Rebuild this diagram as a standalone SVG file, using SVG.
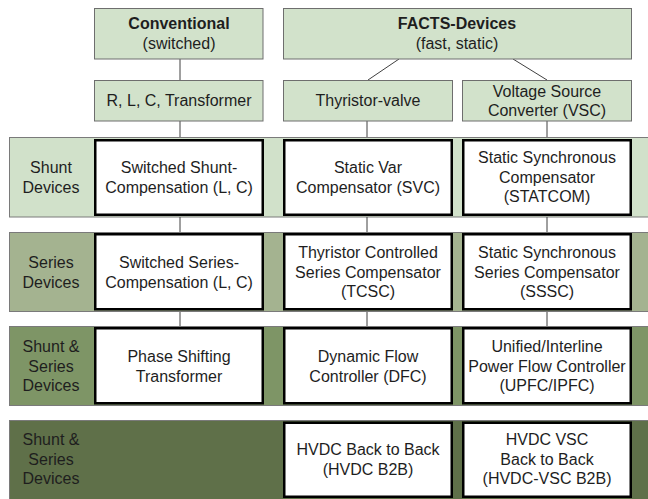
<svg xmlns="http://www.w3.org/2000/svg" width="648" height="499" viewBox="0 0 648 499">
<style>
text{font-family:"Liberation Sans",Arial,sans-serif;font-size:16px;fill:#1e1e1e;text-anchor:middle}
.b{font-weight:bold}
.hdr{fill:#d2e2cb;stroke:#6e6e6e;stroke-width:1}
.band{stroke:#7a7a7a;stroke-width:1}
.box{fill:#ffffff;stroke:#000000;stroke-width:2.5}
.conn line{stroke:#404040;stroke-width:1}
</style>
<rect width="648" height="499" fill="#ffffff"/>
<g id="band-shunt"><rect class="band" x="9.5" y="137.5" width="645" height="79.5" fill="#d1e1ca"/><text x="51" y="173">Shunt</text><text x="51" y="192.5">Devices</text></g>
<g id="band-series"><rect class="band" x="9.5" y="232.5" width="645" height="79" fill="#a4b390"/><text x="51" y="268">Series</text><text x="51" y="287.5">Devices</text></g>
<g id="band-shuntseries"><rect class="band" x="9.5" y="326.5" width="645" height="79" fill="#7e9566"/><text x="51" y="352">Shunt &amp;</text><text x="51" y="371.5">Series</text><text x="51" y="391">Devices</text></g>
<g id="band-hvdc"><rect class="band" x="9.5" y="420.5" width="645" height="85" fill="#5f7049"/><text x="51" y="445">Shunt &amp;</text><text x="51" y="464.5">Series</text><text x="51" y="484">Devices</text></g>
<g class="conn" id="connectors">
<line x1="180" y1="59" x2="180" y2="80"/>
<line x1="399" y1="59" x2="368" y2="80"/>
<line x1="513" y1="59" x2="547" y2="80"/>
<line x1="180" y1="121" x2="180" y2="137"/>
<line x1="367" y1="121" x2="367" y2="137"/>
<line x1="547" y1="121" x2="547" y2="137"/>
<line x1="180" y1="217" x2="180" y2="232"/>
<line x1="367" y1="217" x2="367" y2="232"/>
<line x1="547" y1="217" x2="547" y2="232"/>
<line x1="180" y1="312" x2="180" y2="326"/>
<line x1="367" y1="312" x2="367" y2="326"/>
<line x1="547" y1="312" x2="547" y2="326"/>
</g>
<g id="conventional"><rect class="hdr" x="94.5" y="8.5" width="168.5" height="50.5"/><text class="b" x="179" y="29">Conventional</text><text x="179" y="48.5">(switched)</text></g>
<g id="facts"><rect class="hdr" x="283.5" y="8.5" width="348" height="50.5"/><text class="b" x="457" y="29">FACTS-Devices</text><text x="457" y="48.5">(fast, static)</text></g>
<g id="rlc"><rect class="hdr" x="94.5" y="80.5" width="168.5" height="40.5"/><text x="179" y="106">R, L, C, Transformer</text></g>
<g id="thyristor"><rect class="hdr" x="283.5" y="80.5" width="169" height="40.5"/><text x="368" y="106">Thyristor-valve</text></g>
<g id="vsc"><rect class="hdr" x="462.5" y="80.5" width="169" height="40.5"/><text x="547" y="96.5">Voltage Source</text><text x="547" y="116">Converter (VSC)</text></g>
<g id="sw-shunt"><rect class="box" x="95.25" y="140.25" width="167.5" height="74.5"/><text x="179" y="173">Switched Shunt-</text><text x="179" y="192.5">Compensation (L, C)</text></g>
<g id="svc"><rect class="box" x="284.25" y="140.25" width="167.5" height="74.5"/><text x="368" y="173">Static Var</text><text x="368" y="192.5">Compensator (SVC)</text></g>
<g id="statcom"><rect class="box" x="463.25" y="140.25" width="167.5" height="74.5"/><text x="547" y="163">Static Synchronous</text><text x="547" y="182.5">Compensator</text><text x="547" y="202">(STATCOM)</text></g>
<g id="sw-series"><rect class="box" x="95.25" y="234.25" width="167.5" height="75"/><text x="179" y="268">Switched Series-</text><text x="179" y="287.5">Compensation (L, C)</text></g>
<g id="tcsc"><rect class="box" x="284.25" y="234.25" width="167.5" height="75"/><text x="368" y="258">Thyristor Controlled</text><text x="368" y="277.5">Series Compensator</text><text x="368" y="297">(TCSC)</text></g>
<g id="sssc"><rect class="box" x="463.25" y="234.25" width="167.5" height="75"/><text x="547" y="258">Static Synchronous</text><text x="547" y="277.5">Series Compensator</text><text x="547" y="297">(SSSC)</text></g>
<g id="pst"><rect class="box" x="95.25" y="328.25" width="167.5" height="75"/><text x="179" y="362">Phase Shifting</text><text x="179" y="381.5">Transformer</text></g>
<g id="dfc"><rect class="box" x="284.25" y="328.25" width="167.5" height="75"/><text x="368" y="362">Dynamic Flow</text><text x="368" y="381.5">Controller (DFC)</text></g>
<g id="upfc"><rect class="box" x="463.25" y="328.25" width="167.5" height="75"/><text x="547" y="352">Unified/Interline</text><text x="547" y="371.5">Power Flow Controller</text><text x="547" y="391">(UPFC/IPFC)</text></g>
<g id="hvdc-b2b"><rect class="box" x="284.25" y="422.75" width="167.5" height="74"/><text x="368" y="455">HVDC Back to Back</text><text x="368" y="474.5">(HVDC B2B)</text></g>
<g id="hvdc-vsc"><rect class="box" x="463.25" y="422.75" width="167.5" height="74"/><text x="547" y="445">HVDC VSC</text><text x="547" y="464.5">Back to Back</text><text x="547" y="484">(HVDC-VSC B2B)</text></g>
</svg>
